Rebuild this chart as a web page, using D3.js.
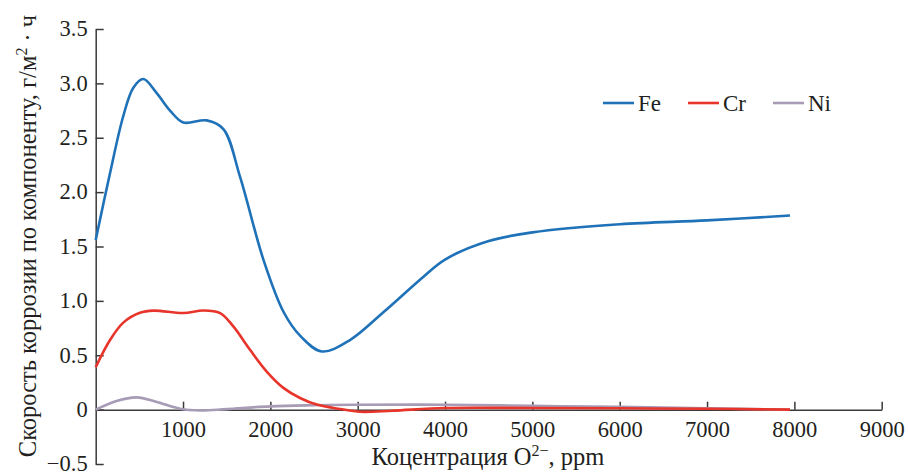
<!DOCTYPE html>
<html>
<head>
<meta charset="utf-8">
<script src="https://cdn.jsdelivr.net/npm/d3@7"></script>
</head>
<body style="margin:0">
<svg id="chart" width="908" height="475"></svg>
<script>
// ---- data ----
const feX = [0, 160, 316, 431, 546, 699, 851, 1003, 1271, 1462, 1653, 1920, 2150, 2340, 2589, 2911, 3300, 3750, 4000, 4500, 5000, 6000, 7000, 7950];
const feY = [1.56, 2.16, 2.70, 2.96, 3.04, 2.91, 2.75, 2.64, 2.66, 2.58, 2.14, 1.38, 0.90, 0.68, 0.535, 0.64, 0.90, 1.22, 1.38, 1.55, 1.63, 1.705, 1.74, 1.785];

const crX = [0, 164, 316, 507, 660, 1003, 1233, 1425, 1576, 1767, 1958, 2149, 2340, 2531, 2798, 3028, 3400, 4000, 5000, 6000, 7000, 7950];
const crY = [0.39, 0.64, 0.80, 0.89, 0.91, 0.888, 0.912, 0.888, 0.765, 0.55, 0.35, 0.20, 0.107, 0.046, 0.006, -0.02, -0.01, 0.015, 0.015, 0.012, 0.008, 0.0];

const niX = [0, 240, 469, 700, 966, 1200, 1500, 2000, 2500, 3000, 4000, 5000, 6000, 7000, 7950];
const niY = [0, 0.08, 0.113, 0.07, 0.008, -0.008, 0.005, 0.03, 0.04, 0.045, 0.045, 0.035, 0.025, 0.012, 0.0];

const seriesNames = ["Fe", "Cr", "Ni"];
const seriesColors = ["#1f72b8", "#e8352b", "#a79bb6"];

const xTicks = [1000, 2000, 3000, 4000, 5000, 6000, 7000, 8000, 9000];
const yTicks = [-0.5, 0, 0.5, 1.0, 1.5, 2.0, 2.5, 3.0, 3.5];

// ---- drawing ----
const FONT = '"Liberation Serif", "Times New Roman", serif';
const TEXT = "#231f20";
const svg = d3.select("#chart");
const x = d3.scaleLinear().domain([0, 9000]).range([95.7, 881.7]);
const y = d3.scaleLinear().domain([-0.5, 3.5]).range([464, 29]);

const axisColor = "#3a3a3a";

function styleText(sel, size) {
  return sel.style("font-family", FONT).attr("font-size", size).attr("fill", TEXT);
}

// Y axis
const yAxis = d3.axisLeft(y)
  .tickValues(yTicks)
  .tickSizeInner(-8)
  .tickSizeOuter(0)
  .tickPadding(8)
  .tickFormat(d => d === 0 ? "0" : (d < 0 ? "\u2212" + Math.abs(d).toFixed(1) : d.toFixed(1)));
const gy = svg.append("g").attr("transform", `translate(${x(0)},0)`).call(yAxis);
gy.select(".domain").attr("stroke", axisColor).attr("stroke-width", 1.5);
gy.selectAll(".tick line").attr("stroke", axisColor).attr("stroke-width", 1.5);
styleText(gy.selectAll(".tick text"), 22.5).attr("dy", "0.3em");

// X axis at y = 0
const xAxis = d3.axisBottom(x)
  .tickValues(xTicks)
  .tickSizeInner(-8)
  .tickSizeOuter(0)
  .tickPadding(11)
  .tickFormat(d => String(d));
const gx = svg.append("g").attr("transform", `translate(0,${y(0)})`).call(xAxis);
gx.select(".domain").attr("stroke", axisColor).attr("stroke-width", 1.5);
gx.selectAll(".tick line").attr("stroke", axisColor).attr("stroke-width", 1.5);
styleText(gx.selectAll(".tick text"), 22.5);

// Lines
const line = d3.line()
  .x(d => x(d[0]))
  .y(d => y(d[1]))
  .curve(d3.curveCatmullRom.alpha(0.5));

const layers = [
  { pts: d3.zip(niX, niY), color: seriesColors[2] },
  { pts: d3.zip(crX, crY), color: seriesColors[1] },
  { pts: d3.zip(feX, feY), color: seriesColors[0] }
];
layers.forEach(l => {
  svg.append("path")
    .datum(l.pts)
    .attr("fill", "none")
    .attr("stroke", l.color)
    .attr("stroke-width", 2.6)
    .attr("stroke-linejoin", "round")
    .attr("d", line);
});

// Legend
const legendX = [603, 688, 773];
const legendY = 103;
seriesNames.forEach((name, i) => {
  svg.append("line")
    .attr("x1", legendX[i]).attr("x2", legendX[i] + 31)
    .attr("y1", legendY).attr("y2", legendY)
    .attr("stroke", seriesColors[i]).attr("stroke-width", 2.6);
  styleText(svg.append("text"), 23)
    .attr("x", legendX[i] + 35).attr("y", legendY + 8)
    .text(name);
});

// Y axis title
const yt = styleText(svg.append("text"), 24.5)
  .attr("transform", `translate(36,236) rotate(-90)`)
  .attr("text-anchor", "middle");
yt.append("tspan").text("Скорость коррозии по компоненту, г/м");
yt.append("tspan").attr("font-size", 16).attr("dy", -9).text("2");
yt.append("tspan").attr("dy", 9).text(" · ч");

// X axis title
const xt = styleText(svg.append("text"), 24.5)
  .attr("x", 488).attr("y", 465)
  .attr("text-anchor", "middle");
xt.append("tspan").text("Коцентрация O");
xt.append("tspan").attr("font-size", 16).attr("dy", -9).text("2\u2212");
xt.append("tspan").attr("dy", 9).text(", ppm");
</script>
</body>
</html>
